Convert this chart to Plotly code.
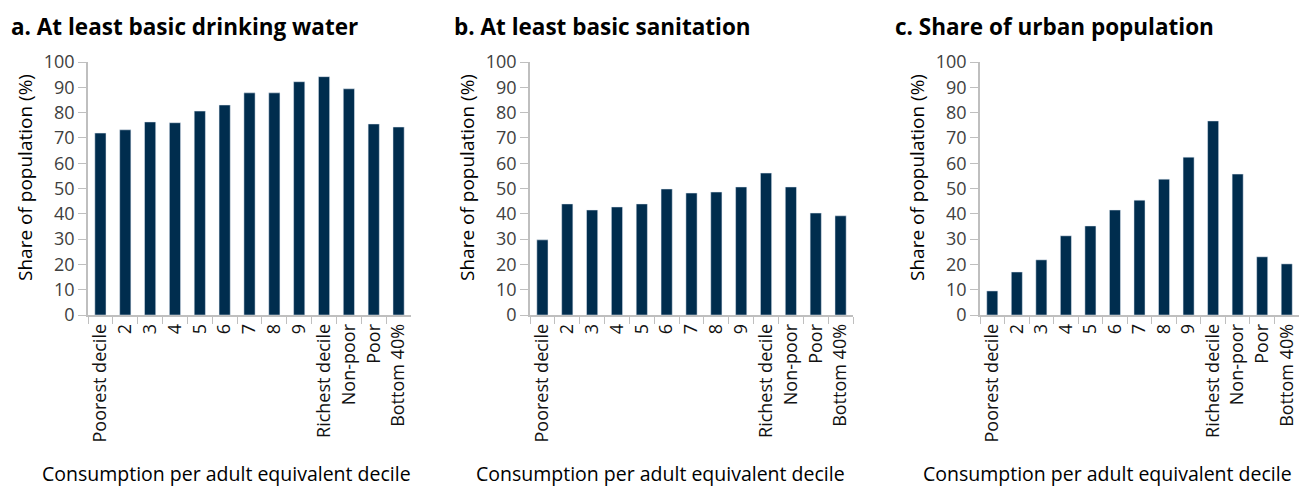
import plotly.graph_objects as go

categories = ["Poorest decile", "2", "3", "4", "5", "6", "7", "8", "9",
              "Richest decile", "Non-poor", "Poor", "Bottom 40%"]
water = [71.9, 73.2, 76.3, 76.0, 80.6, 83.0, 87.8, 87.8, 92.2, 94.2, 89.4, 75.5, 74.3]
sanitation = [29.7, 43.9, 41.5, 42.7, 43.9, 49.8, 48.2, 48.6, 50.6, 56.1, 50.6, 40.3, 39.2]
urban = [9.5, 17.0, 21.8, 31.3, 35.2, 41.5, 45.4, 53.7, 62.4, 76.7, 55.7, 23.0, 20.2]
titles = ["a. At least basic drinking water", "b. At least basic sanitation", "c. Share of urban population"]
xlabel = "Consumption per adult equivalent decile"
ylabel = "Share of population (%)"

W, H = 1299, 487
bar_color = "#002D4E"
font_fam = "Open Sans, Noto Sans, sans-serif"
tick_color = "#404040"
axis_color = "#BFBFBF"

# (plot left, plot right, title left, x-label centre)
panels = [(88, 411, 9, 226), (530, 853, 452, 660), (980, 1299, 893, 1107)]
series = [water, sanitation, urban]

fig = go.Figure()
y_dom = [1 - 315 / H, 1 - 62 / H]
for i, (vals, (x0, x1, tx, xc)) in enumerate(zip(series, panels)):
    sfx = "" if i == 0 else str(i + 1)
    fig.add_trace(go.Bar(x=categories, y=vals, marker_color=bar_color,
                         xaxis="x" + sfx, yaxis="y" + sfx, showlegend=False,
                         width=0.45))
    fig.layout["xaxis" + sfx] = dict(
        domain=[x0 / W, x1 / W], anchor="y" + sfx, type="category",
        showline=True, linecolor=axis_color, linewidth=1.5,
        ticks="outside", tickson="boundaries", ticklen=7, tickcolor=axis_color,
        tickangle=-90, tickfont=dict(size=18, color="#111111", family=font_fam),
        showgrid=False, fixedrange=True, automargin=False)
    fig.layout["yaxis" + sfx] = dict(
        domain=y_dom, anchor="x" + sfx, range=[0, 100], dtick=10,
        showline=True, linecolor=axis_color, linewidth=1.5,
        ticks="outside", ticklen=8, tickcolor=axis_color,
        tickfont=dict(size=18, color=tick_color, family=font_fam),
        showgrid=False, zeroline=False, fixedrange=True, automargin=False)
    fig.add_annotation(text="<b>" + titles[i] + "</b>", xref="paper", yref="paper",
                       x=tx / W, y=1 - 26 / H, xanchor="left", yanchor="middle",
                       showarrow=False, font=dict(size=22.5, color="#000000", family=font_fam))
    fig.add_annotation(text=ylabel, xref="paper", yref="paper",
                       x=(x0 - 63) / W, y=1 - 178 / H, xanchor="center", yanchor="middle",
                       textangle=-90, showarrow=False,
                       font=dict(size=19, color="#000000", family=font_fam))
    fig.add_annotation(text=xlabel, xref="paper", yref="paper",
                       x=xc / W, y=1 - 473 / H,
                       xanchor="center", yanchor="middle", showarrow=False,
                       font=dict(size=19.5, color="#000000", family=font_fam))

fig.update_layout(width=W, height=H, margin=dict(l=0, r=0, t=0, b=0, pad=0),
                  paper_bgcolor="white", plot_bgcolor="white", bargap=0.55,
                  font=dict(family=font_fam))
post = ("document.body.style.margin='0';document.body.style.padding='0';"
        "document.documentElement.style.overflow='hidden';document.body.style.overflow='hidden';")
fig.write_html("out.html", post_script=post, config={"displayModeBar": False})
